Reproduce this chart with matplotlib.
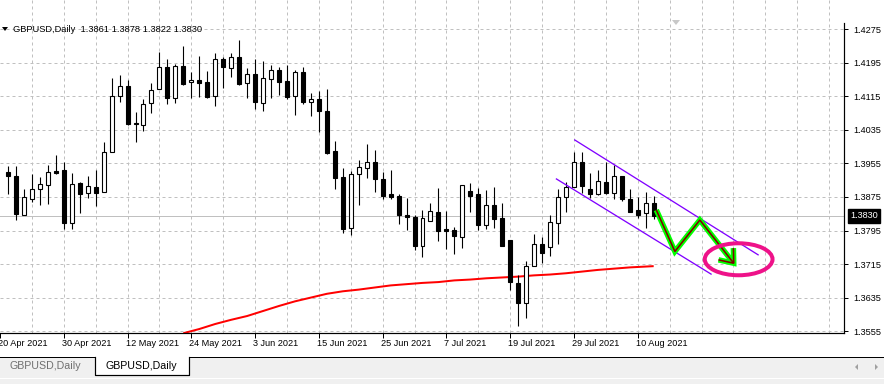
import matplotlib
matplotlib.use("Agg")
import matplotlib.pyplot as plt
from matplotlib.patches import Rectangle, Ellipse, Polygon
from matplotlib.lines import Line2D
import matplotlib.transforms as mtransforms

# ---------------- data (GBPUSD daily, 21 Apr 2021 .. 12 Aug 2021) ----------------
opens = [1.3935, 1.3925, 1.3832, 1.3869, 1.3893, 1.3904, 1.3937, 1.3939, 1.3812, 1.3908,
         1.3884, 1.3898, 1.3886, 1.3983, 1.4115, 1.4140, 1.4051, 1.4046, 1.4099, 1.4132,
         1.4185, 1.4110, 1.4188, 1.4149, 1.4154, 1.4149, 1.4117, 1.4204, 1.4182, 1.4209,
         1.4146, 1.4169, 1.4100, 1.4156, 1.4177, 1.4152, 1.4115, 1.4173, 1.4101, 1.4109,
         1.4080, 1.3985, 1.3923, 1.3800, 1.3929, 1.3945, 1.3959, 1.3918, 1.3882, 1.3877,
         1.3832, 1.3827, 1.3757, 1.3817, 1.3839, 1.3799, 1.3796, 1.3780, 1.3889, 1.3882,
         1.3807, 1.3855, 1.3825, 1.3772, 1.3670, 1.3621, 1.3710, 1.3763, 1.3755, 1.3812,
         1.3874, 1.3898, 1.3959, 1.3894, 1.3881, 1.3911, 1.3884, 1.3925, 1.3870, 1.3844,
         1.3836, 1.3861]
highs = [1.3949, 1.3949, 1.3894, 1.3930, 1.3923, 1.3951, 1.3975, 1.3959, 1.3932, 1.3910,
         1.3925, 1.3939, 1.4007, 1.4160, 1.4166, 1.4154, 1.4077, 1.4109, 1.4146, 1.4222,
         1.4203, 1.4192, 1.4235, 1.4172, 1.4211, 1.4176, 1.4219, 1.4208, 1.4219, 1.4250,
         1.4183, 1.4204, 1.4199, 1.4190, 1.4185, 1.4190, 1.4178, 1.4185, 1.4123, 1.4128,
         1.4133, 1.4009, 1.3944, 1.3937, 1.3963, 1.4001, 1.3987, 1.3935, 1.3939, 1.3881,
         1.3873, 1.3832, 1.3844, 1.3861, 1.3897, 1.3842, 1.3803, 1.3903, 1.3908, 1.3896,
         1.3892, 1.3899, 1.3861, 1.3772, 1.3689, 1.3723, 1.3787, 1.3780, 1.3832, 1.3894,
         1.3910, 1.3982, 1.3982, 1.3933, 1.3939, 1.3959, 1.3951, 1.3925, 1.3894, 1.3874,
         1.3888, 1.3878]
lows = [1.3882, 1.3820, 1.3831, 1.3862, 1.3856, 1.3858, 1.3931, 1.3799, 1.3799, 1.3837,
        1.3873, 1.3854, 1.3886, 1.3983, 1.4102, 1.4047, 1.4005, 1.4032, 1.4075, 1.4132,
        1.4097, 1.4100, 1.4141, 1.4110, 1.4114, 1.4111, 1.4091, 1.4134, 1.4162, 1.4142,
        1.4110, 1.4086, 1.4081, 1.4110, 1.4119, 1.4109, 1.4071, 1.4096, 1.4069, 1.4031,
        1.3978, 1.3893, 1.3788, 1.3785, 1.3857, 1.3921, 1.3888, 1.3869, 1.3869, 1.3811,
        1.3797, 1.3749, 1.3731, 1.3817, 1.3771, 1.3752, 1.3740, 1.3754, 1.3838, 1.3797,
        1.3799, 1.3802, 1.3759, 1.3652, 1.3568, 1.3587, 1.3710, 1.3718, 1.3735, 1.3764,
        1.3840, 1.3898, 1.3885, 1.3873, 1.3879, 1.3882, 1.3869, 1.3866, 1.3838, 1.3826,
        1.3800, 1.3822]
closes = [1.3924, 1.3835, 1.3874, 1.3893, 1.3905, 1.3935, 1.3933, 1.3814, 1.3905, 1.3883,
          1.3900, 1.3885, 1.3982, 1.4115, 1.4139, 1.4048, 1.4048, 1.4096, 1.4130, 1.4185,
          1.4110, 1.4188, 1.4145, 1.4153, 1.4148, 1.4114, 1.4203, 1.4186, 1.4208, 1.4145,
          1.4168, 1.4102, 1.4158, 1.4177, 1.4150, 1.4114, 1.4173, 1.4102, 1.4108, 1.4079,
          1.3981, 1.3921, 1.3799, 1.3930, 1.3946, 1.3959, 1.3919, 1.3878, 1.3876, 1.3831,
          1.3828, 1.3757, 1.3825, 1.3841, 1.3795, 1.3795, 1.3783, 1.3903, 1.3878, 1.3807,
          1.3855, 1.3823, 1.3759, 1.3671, 1.3621, 1.3710, 1.3762, 1.3742, 1.3815, 1.3874,
          1.3898, 1.3959, 1.3900, 1.3882, 1.3913, 1.3885, 1.3924, 1.3869, 1.3840, 1.3832,
          1.3860, 1.3830]

# moving average (red) sampled at bar indices
ma_bars = [22, 24, 26, 28, 30, 32, 34, 36, 38, 40, 42, 44, 46, 48, 50, 52, 54, 56, 58,
           60, 62, 64, 66, 68, 70, 72, 74, 76, 78, 80, 81]
ma_values = [1.3550, 1.3560, 1.3572, 1.3582, 1.3591, 1.3603, 1.3615, 1.3626, 1.3635,
             1.3644, 1.3650, 1.3654, 1.3659, 1.3664, 1.3667, 1.3670, 1.3672, 1.3676,
             1.3678, 1.3681, 1.3683, 1.3685, 1.3688, 1.3690, 1.3693, 1.3697, 1.3701,
             1.3704, 1.3707, 1.3709, 1.3710]

# drawn objects (anchored at bar index / price)
channel_upper = [(71.1, 1.4011), (94.1, 1.3737)]
channel_lower = [(68.8, 1.3918), (88.2, 1.3691)]
zigzag_bars = [81.33, 83.66, 86.79, 91.04]
zigzag_prices = [1.3844, 1.3745, 1.3820, 1.3717]
arrow_wings = [(89.13, 1.3725), (91.0, 1.3753)]
ellipse_center = (91.66, 1.37264)
ellipse_size = (8.5, 0.00763)

price_ticks = [1.3555, 1.3635, 1.3715, 1.3795, 1.3875, 1.3955, 1.4035, 1.4115, 1.4195, 1.4275]
date_tick_bars = [-1, 7, 15, 23, 31, 39, 47, 55, 63, 71, 79]
date_tick_labels = ["20 Apr 2021", "30 Apr 2021", "12 May 2021", "24 May 2021", "3 Jun 2021",
                    "15 Jun 2021", "25 Jun 2021", "7 Jul 2021", "19 Jul 2021", "29 Jul 2021",
                    "10 Aug 2021"]
symbol = "GBPUSD,Daily"
last_price = closes[-1]

# ---------------- figure ----------------
W, H = 884, 384
fig = plt.figure(figsize=(W / 100, H / 100), dpi=100)
fig.patch.set_facecolor("white")
FONT = "Liberation Sans"
PX = 72 / 100  # points per pixel

plot_left, plot_right, plot_top, plot_bottom = 0, 844, 0, 333
ax = fig.add_axes([plot_left / W, 1 - plot_bottom / H, (plot_right - plot_left) / W,
                   (plot_bottom - plot_top) / H])
ax.set_xlim(-0.625, 104.875)
ax.set_ylim(1.35505, 1.43449)
ax.set_facecolor("white")

# grid
grid_kw = dict(color="#c0c0c0", lw=PX, ls=(0, (3, 3)), zorder=0)
for p in price_ticks:
    ax.axhline(p, **grid_kw)
for b in range(3, 105, 4):
    ax.axvline(b, **grid_kw)

# current price line
ax.axhline(last_price, color="#c0c0c0", lw=PX, zorder=0.5)

# moving average
ax.plot(ma_bars, ma_values, color="red", lw=2 * PX, zorder=2, solid_capstyle="butt")

# candles
for i, (o, h, l, c) in enumerate(zip(opens, highs, lows, closes)):
    ax.vlines(i, l, h, color="black", lw=1.1 * PX, zorder=3)
    bottom = min(o, c)
    height = max(abs(c - o), 0.00008)
    ax.add_patch(Rectangle((i - 0.25, bottom), 0.5, height,
                           facecolor="black" if c < o else "white",
                           edgecolor="black", lw=1.1 * PX, zorder=4))

# channel
for seg in (channel_upper, channel_lower):
    ax.plot([seg[0][0], seg[1][0]], [seg[0][1], seg[1][1]], color="#8000ff",
            lw=1.3 * PX, zorder=5)

# zigzag arrow (green with dark red core)
wing_x = [arrow_wings[0][0], zigzag_bars[-1], arrow_wings[1][0]]
wing_y = [arrow_wings[0][1], zigzag_prices[-1], arrow_wings[1][1]]
for col, lw, z in (("#00ff00", 5.5 * PX, 5.5), ("#800000", 1.6 * PX, 6)):
    ax.plot(zigzag_bars, zigzag_prices, color=col, lw=lw, zorder=z,
            solid_joinstyle="miter", solid_capstyle="butt")
    ax.plot(wing_x, wing_y, color=col, lw=lw, zorder=z,
            solid_joinstyle="miter", solid_capstyle="butt")

# ellipse
ax.add_patch(Ellipse(ellipse_center, ellipse_size[0], ellipse_size[1], fill=False,
                     edgecolor="#ee1289", lw=4 * PX, zorder=7))

# axes style
for s in ("top", "left"):
    ax.spines[s].set_visible(False)
ax.spines["bottom"].set_color("black")
ax.spines["right"].set_color("black")
ax.spines["bottom"].set_linewidth(1.2 * PX)
ax.spines["right"].set_linewidth(1.2 * PX)
ax.spines["right"].set_bounds(1.35505, 1.4290)

ax.yaxis.tick_right()
ax.set_yticks(price_ticks)
ax.set_yticklabels([f"{p:.4f}" for p in price_ticks], fontsize=6.6, family=FONT)
ax.tick_params(axis="y", direction="out", length=3, width=PX, pad=4, colors="black")
ax.set_xticks(date_tick_bars)
ax.set_xticklabels([])
ax.tick_params(axis="x", direction="out", length=3.5, width=PX, colors="black")
for b, lab in zip(date_tick_bars, date_tick_labels):
    ax.annotate(lab, xy=(b, 0), xycoords=("data", "axes fraction"), xytext=(-2, -6),
                textcoords="offset pixels", ha="left", va="top", fontsize=6.6,
                family=FONT, annotation_clip=False, clip_on=False)

# current price label box
ax.annotate(f"{last_price:.4f}", xy=(1, last_price), xycoords=("axes fraction", "data"),
            xytext=(6, 0), textcoords="offset pixels", ha="left", va="center",
            fontsize=6.6, family=FONT, color="white", annotation_clip=False,
            bbox=dict(boxstyle="square,pad=0.25", fc="black", ec="black"))

# ---------------- pixel-space decorations ----------------
pix = mtransforms.Affine2D().scale(1 / W, -1 / H).translate(0, 1) + fig.transFigure


def prect(x0, y0, x1, y1, **kw):
    fig.patches.append(Rectangle((x0, y0), x1 - x0, y1 - y0, transform=pix, **kw))


def pline(xs, ys, **kw):
    fig.lines.append(Line2D(xs, ys, transform=pix, **kw))


# header
fig.patches.append(Polygon([(2, 27), (8, 27), (5, 31)], closed=True, transform=pix,
                           fc="black", ec="none"))
fig.text(13 / W, 1 - 30 / H, f"{symbol}  1.3861 1.3878 1.3822 1.3830", fontsize=6.7,
         family=FONT, va="center", ha="left", color="black")
# small shift marker
fig.patches.append(Polygon([(672, 20), (680, 20), (676, 25)], closed=True, transform=pix,
                           fc="#c8c8c8", ec="none"))

# tab bar
prect(0, 357, W, H, fc="#f0f0f0", ec="none")
pline([0, W], [357, 357], color="black", lw=PX)
prect(95, 357, 189, 375, fc="white", ec="none", zorder=3)
pline([95, 95, 189, 189], [357, 375, 375, 357], color="black", lw=1.2 * PX, zorder=4)
pline([0, W], [377.5, 377.5], color="white", lw=PX)
fig.text(10 / W, 1 - 366 / H, symbol, fontsize=7.7, family=FONT, color="#707070",
         va="center", ha="left")
fig.text(106 / W, 1 - 366 / H, symbol, fontsize=7.7, family=FONT, color="black",
         va="center", ha="left", zorder=5)
fig.patches.append(Polygon([(858, 364), (858, 370), (855, 367)], closed=True, transform=pix,
                           fc="#a0a0a0", ec="none"))
fig.patches.append(Polygon([(875, 364), (875, 370), (878, 367)], closed=True, transform=pix,
                           fc="#a0a0a0", ec="none"))

fig.savefig("out.png", dpi=100)
